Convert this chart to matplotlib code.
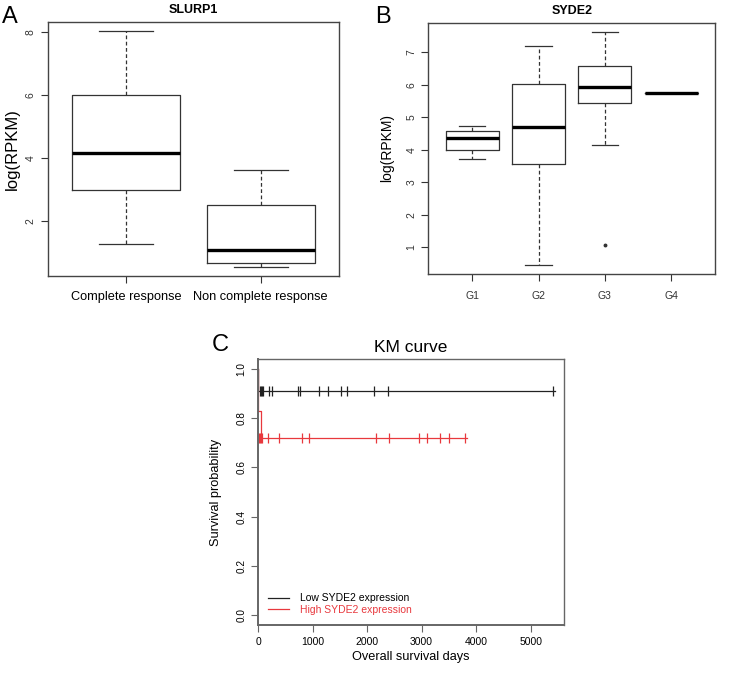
import matplotlib.pyplot as plt
from matplotlib.lines import Line2D

plt.rcParams['font.family'] = ['Liberation Sans', 'DejaVu Sans']

# Panel A: SLURP1 box stats (whislo, q1, med, q3, whishi)
slurp1_groups = ["Complete response", "Non complete response"]
slurp1_whislo = [1.27, 0.57]
slurp1_q1 = [3.00, 0.67]
slurp1_med = [4.17, 1.09]
slurp1_q3 = [6.01, 2.51]
slurp1_whishi = [8.03, 3.63]

# Panel B: SYDE2 box stats
syde2_groups = ["G1", "G2", "G3", "G4"]
syde2_whislo = [3.72, 0.47, 4.14, 5.74]
syde2_q1 = [4.00, 3.56, 5.43, 5.74]
syde2_med = [4.37, 4.69, 5.92, 5.74]
syde2_q3 = [4.58, 6.03, 6.56, 5.74]
syde2_whishi = [4.74, 7.19, 7.62, 5.74]
syde2_fliers = [[], [], [1.09], []]

# Panel C: KM curves (step times and survival), censor times
low_times = [0, 4]
low_surv = [1.0, 0.911]
low_end = 5450
low_censor = [30, 55, 75, 100, 200, 250, 740, 775, 1115, 1290, 1515,
              1625, 2130, 2390, 5400]
high_times = [0, 3, 50]
high_surv = [1.0, 0.83, 0.719]
high_end = 3840
high_censor = [15, 35, 55, 80, 176, 380, 810, 930, 2155, 2400, 2955, 3100,
               3330, 3510, 3790]

fig = plt.figure(figsize=(7.38, 6.85), dpi=100)


def boxpanel(ax, groups, lo, q1, med, q3, hi, fliers, title, yticks):
    stats = []
    for i, g in enumerate(groups):
        stats.append(dict(label=g, whislo=lo[i], q1=q1[i], med=med[i],
                          q3=q3[i], whishi=hi[i],
                          fliers=fliers[i] if fliers else []))
    n = len(groups)
    ax.bxp(stats, positions=range(1, n + 1), widths=0.8,
           boxprops=dict(color='#333333', lw=0.9),
           whiskerprops=dict(color='#333333', lw=0.9, ls=(0, (3, 2))),
           capprops=dict(color='#333333', lw=0.9),
           medianprops=dict(color='black', lw=2.4),
           flierprops=dict(marker='o', markersize=1.8, markerfacecolor='#333333',
                           markeredgecolor='#333333'),
           capwidths=0.4)
    vmin = min(lo + [v for f in (fliers or []) for v in f])
    vmax = max(hi)
    pad = (vmax - vmin) * 0.04
    ax.set_ylim(vmin - pad, vmax + pad)
    ax.set_xlim(0.5 - n * 0.04, n + 0.5 + n * 0.04)
    ax.set_yticks(yticks)
    ax.set_yticklabels([str(t) for t in yticks], rotation=90, va='center')
    ax.set_title(title, fontsize=9, fontweight='bold', pad=6)
    for s in ax.spines.values():
        s.set_color('#444444')
        s.set_linewidth(1.0)
    ax.tick_params(colors='#333333', length=5, width=0.8)


axA = fig.add_axes([0.0646, 0.5971, 0.3947, 0.3712])
boxpanel(axA, slurp1_groups, slurp1_whislo, slurp1_q1, slurp1_med, slurp1_q3,
         slurp1_whishi, None, "SLURP1", [2, 4, 6, 8])
axA.set_ylabel("log(RPKM)", fontsize=12, labelpad=4)
axA.tick_params(axis='y', labelsize=7.5)
axA.tick_params(axis='x', labelsize=9.2, labelcolor='black', pad=6)

axB = fig.add_axes([0.5804, 0.6, 0.3885, 0.3669])
boxpanel(axB, syde2_groups, syde2_whislo, syde2_q1, syde2_med, syde2_q3,
         syde2_whishi, syde2_fliers, "SYDE2", [1, 2, 3, 4, 5, 6, 7])
axB.set_ylabel("log(RPKM)", fontsize=10, labelpad=9)
axB.tick_params(axis='y', labelsize=7.5)
axB.tick_params(axis='x', labelsize=7.5, pad=7)

fig.text(0.003, 0.975, "A", fontsize=17, va='center', ha='left')
fig.text(0.508, 0.975, "B", fontsize=17, va='center', ha='left')

# Panel C
axC = fig.add_axes([0.3496, 0.0876, 0.4146, 0.3883])
gray = '#666666'
red = '#e8383d'
axC.step(low_times + [low_end], low_surv + [low_surv[-1]], where='post',
         color='#222222', lw=0.9)
axC.plot(low_censor, [low_surv[-1]] * len(low_censor), ls='none', marker='|',
         markersize=7, mew=0.9, color='#222222')
axC.step(high_times + [high_end], high_surv + [high_surv[-1]], where='post',
         color=red, lw=0.9)
axC.plot(high_censor, [high_surv[-1]] * len(high_censor), ls='none',
         marker='|', markersize=7, mew=0.9, color=red)
axC.set_xlim(0, 5610)
axC.set_ylim(-0.04, 1.04)
axC.set_xticks([0, 1000, 2000, 3000, 4000, 5000])
axC.set_yticks([0.0, 0.2, 0.4, 0.6, 0.8, 1.0])
axC.set_yticklabels(["0.0", "0.2", "0.4", "0.6", "0.8", "1.0"], rotation=90,
                    va='center')
axC.tick_params(labelsize=7.5, length=5, width=0.8, colors=gray,
                labelcolor='black')
axC.tick_params(axis='y', labelsize=7.2)
for side, s in axC.spines.items():
    s.set_color(gray)
    s.set_linewidth(1.4 if side in ('left', 'bottom') else 1.0)
axC.set_xlabel("Overall survival days", fontsize=9.2, labelpad=3)
axC.set_ylabel("Survival probability", fontsize=9.2, labelpad=10)
axC.set_title("KM curve", fontsize=12.5, pad=5)
fig.text(0.287, 0.496, "C", fontsize=17, va='center', ha='left')

handles = [Line2D([], [], color='#222222', lw=0.9),
           Line2D([], [], color=red, lw=0.9)]
leg = axC.legend(handles, ["Low SYDE2 expression", "High SYDE2 expression"],
                 loc='lower left', frameon=False, fontsize=7.5,
                 handlelength=2.0, handletextpad=1.0, borderaxespad=0.3,
                 labelspacing=0.15, bbox_to_anchor=(0.01, 0.01))
leg.get_texts()[1].set_color(red)

fig.savefig("out.png", dpi=100)
